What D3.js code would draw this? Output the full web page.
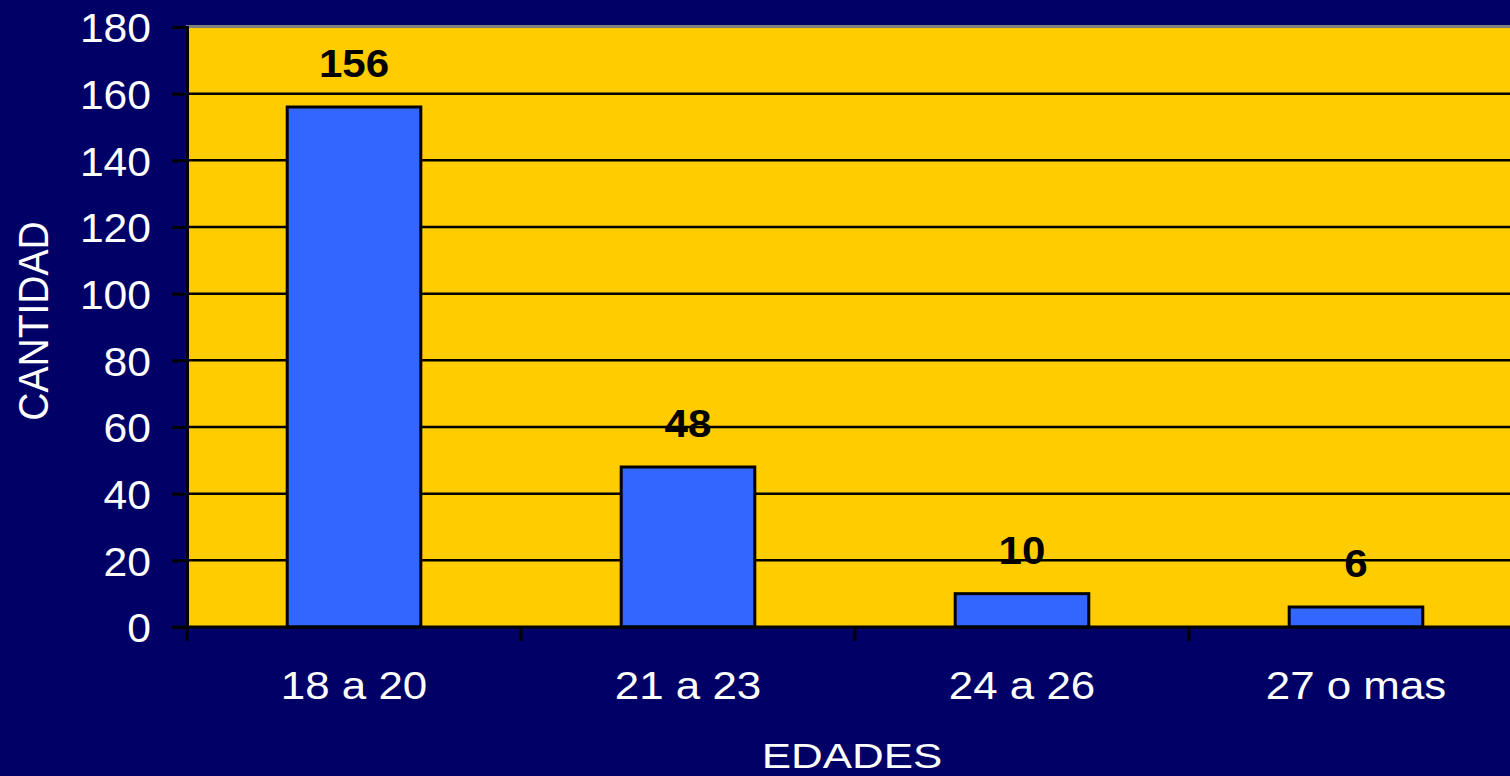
<!DOCTYPE html>
<html><head><meta charset="utf-8">
<script src="https://cdn.jsdelivr.net/npm/d3@7"></script>
<style>html,body{margin:0;padding:0;background:#000066;overflow:hidden}</style>
</head><body>
<svg id="c" width="1510" height="776"></svg>
<script>
const categories = ["18 a 20", "21 a 23", "24 a 26", "27 o mas"];
const values = [156, 48, 10, 6];
const yTicks = [0, 20, 40, 60, 80, 100, 120, 140, 160, 180];
const xTitle = "EDADES";
const yTitle = "CANTIDAD";

(function () {
const svg = d3.select("#c");
const W = 1510, H = 776;
const pL = 187, pR = 1523, pT = 27, pB = 627;
const font = "'Liberation Sans', Arial, sans-serif";

svg.append("rect").attr("width", W).attr("height", H).attr("fill", "#000066");

const x = d3.scaleBand().domain(categories).range([pL, pR]).paddingInner(0.6).paddingOuter(0.3);
const xb = d3.scaleBand().domain(categories).range([pL, pR]);
const y = d3.scaleLinear().domain([0, 180]).range([pB, pT]);

// plot area
svg.append("rect").attr("x", pL).attr("y", pT).attr("width", pR - pL).attr("height", pB - pT).attr("fill", "#FFCC00");

// gridlines
svg.append("g").selectAll("line").data(yTicks.filter(d => d > 0 && d < 180)).join("line")
  .attr("x1", pL).attr("x2", pR).attr("y1", d => y(d)).attr("y2", d => y(d))
  .attr("stroke", "#000").attr("stroke-width", 2.5);
// top border
svg.append("line").attr("x1", pL - 1).attr("x2", pR).attr("y1", y(180) - 0.5).attr("y2", y(180) - 0.5)
  .attr("stroke", "#808080").attr("stroke-width", 3);

// bars
svg.append("g").selectAll("rect").data(values).join("rect")
  .attr("x", (d, i) => x(categories[i]))
  .attr("y", d => y(d))
  .attr("width", x.bandwidth())
  .attr("height", d => y(0) - y(d))
  .attr("fill", "#3366FF").attr("stroke", "#000").attr("stroke-width", 3);

// y axis
const ya = svg.append("g").attr("transform", `translate(${pL},0)`)
  .call(d3.axisLeft(y).tickValues(yTicks).tickSize(15).tickPadding(20));
ya.select(".domain").attr("stroke", "#000").attr("stroke-width", 3);
ya.selectAll(".tick line").attr("stroke", "#000").attr("stroke-width", 3);
ya.selectAll(".tick text").attr("fill", "#fff").attr("font-family", font).attr("font-size", 41)
  .attr("dy", "0.36em").attr("x", 0).attr("transform", "translate(-36,0) scale(1.04,1)");

// x axis
const xa = svg.append("g").attr("transform", `translate(0,${pB})`)
  .call(d3.axisBottom(xb).tickValues([]).tickSizeOuter(0));
xa.select(".domain").attr("stroke", "#000").attr("stroke-width", 3).attr("d", `M${pL - 15},0H${pR}`);
svg.append("g").selectAll("line").data(categories).join("line")
  .attr("x1", d => xb(d)).attr("x2", d => xb(d)).attr("y1", pB).attr("y2", pB + 14)
  .attr("stroke", "#000").attr("stroke-width", 3);
svg.append("g").selectAll("text").data(categories).join("text")
  .attr("transform", d => `translate(${xb(d) + xb.bandwidth() / 2},699) scale(1.155,1)`)
  .attr("text-anchor", "middle").attr("fill", "#fff").attr("font-family", font).attr("font-size", 38)
  .text(d => d);

// value labels
svg.append("g").selectAll("text").data(values).join("text")
  .attr("transform", (d, i) => `translate(${x(categories[i]) + x.bandwidth() / 2},${y(d) - 30}) scale(1.08,1)`)
  .attr("text-anchor", "middle").attr("fill", "#000").attr("font-family", font)
  .attr("font-weight", "bold").attr("font-size", 39)
  .text(d => d);

// titles
svg.append("text").attr("transform", "translate(852,768) scale(1.22,1)").attr("text-anchor", "middle")
  .attr("fill", "#fff").attr("font-family", font).attr("font-size", 36)
  .text(xTitle);
svg.append("text").attr("transform", "translate(48,321) rotate(-90) scale(1,1.1)").attr("text-anchor", "middle")
  .attr("fill", "#fff").attr("font-family", font).attr("font-size", 39)
  .text(yTitle);
})();
</script>
</body></html>
